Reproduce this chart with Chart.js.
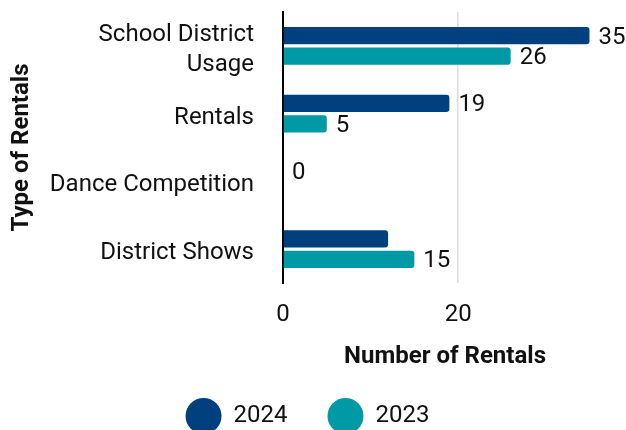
<!DOCTYPE html>
<html lang="en">
<head>
<meta charset="UTF-8">
<title>Number of Rentals</title>
<script src="https://cdn.jsdelivr.net/npm/chart.js"></script>
<style>
    html, body { margin: 0; padding: 0; background: #fff; overflow: hidden; }
    #box { width: 626px; height: 444px; }
</style>
</head>
<body>
<div id="box"><canvas id="myChart"></canvas></div>
<script>
    const categories = [['School District', 'Usage'], 'Rentals', 'Dance Competition', 'District Shows'];
    const values2024 = [35, 19, 0, 12];
    const values2023 = [26, 5, 0, 15];
    const xTicks = [0, 20];
    // which value labels the original leaves out
    const hiddenLabels2024 = [false, false, false, true];
    const hiddenLabels2023 = [false, false, true, false];

    const blue = '#00407f';
    const teal = '#0099a6';

    // value labels at bar ends
    const valueLabels = {
        id: 'valueLabels',
        afterDatasetsDraw(chart) {
            const ctx = chart.ctx;
            ctx.save();
            ctx.font = '24px Roboto';
            ctx.fillStyle = '#111';
            ctx.textAlign = 'left';
            ctx.textBaseline = 'middle';
            chart.data.datasets.forEach((ds, i) => {
                const meta = chart.getDatasetMeta(i);
                meta.data.forEach((bar, j) => {
                    if (ds.hidden_labels[j]) return;
                    ctx.fillText(ds.data[j], bar.x + 9, bar.y + 2);
                });
            });
            ctx.restore();
        }
    };

    const chartDraw = function () {
        new Chart(document.getElementById('myChart'), {
            type: 'bar',
            data: {
                labels: categories,
                datasets: [
                    { label: '2024', data: values2024, backgroundColor: blue, hidden_labels: hiddenLabels2024 },
                    { label: '2023', data: values2023, backgroundColor: teal, hidden_labels: hiddenLabels2023 }
                ]
            },
            options: {
                indexAxis: 'y',
                responsive: true,
                maintainAspectRatio: false,
                animation: false,
                layout: { padding: { top: 12, right: 19, left: 8, bottom: 0 } },
                datasets: {
                    bar: {
                        categoryPercentage: 0.6,
                        barPercentage: 0.85,
                        borderRadius: { topRight: 3, bottomRight: 3 },
                        borderSkipped: 'left'
                    }
                },
                scales: {
                    x: {
                        min: 0,
                        max: 37,
                        afterBuildTicks: (scale) => { scale.ticks = xTicks.map(v => ({ value: v })); },
                        // chart.js counts tick padding twice, so fix the height by hand
                        afterFit: (scale) => { scale.height = 75; },
                        grid: { color: '#dddddd', lineWidth: 1.5, drawTicks: false },
                        border: { display: false },
                        ticks: { color: '#111', font: { family: 'Roboto', size: 24 }, padding: 18 },
                        title: {
                            display: true, text: 'Number of Rentals', color: '#111',
                            font: { family: 'Roboto', size: 24, weight: 'bold' }, padding: { top: 0, bottom: -13 }
                        }
                    },
                    y: {
                        grid: { display: false, drawTicks: false },
                        border: { display: true, color: '#000', width: 2 },
                        ticks: {
                            color: '#111', font: { family: 'Roboto', size: 24, lineHeight: 1.25 },
                            padding: 29, autoSkip: false, labelOffset: 4
                        },
                        afterFit: (scale) => {
                            scale.width = 275;
                            // let the wrapped first label stick out above the plot
                            scale.paddingTop = 0;
                            scale.paddingBottom = 0;
                        },
                        title: {
                            display: true, text: 'Type of Rentals', color: '#111',
                            font: { family: 'Roboto', size: 24, weight: 'bold' }, padding: { top: 0, bottom: 0 }
                        }
                    }
                },
                plugins: {
                    legend: {
                        position: 'bottom',
                        labels: {
                            color: '#111',
                            font: { family: 'Roboto', size: 24 },
                            boxWidth: 36,
                            boxHeight: 36,
                            useBorderRadius: true,
                            borderRadius: 18,
                            padding: 40
                        }
                    },
                    tooltip: { enabled: false }
                }
            },
            plugins: [valueLabels]
        });
    };

    Promise.all([
        document.fonts.load('24px Roboto'),
        document.fonts.load('bold 24px Roboto')
    ]).then(chartDraw, chartDraw);
</script>
</body>
</html>
